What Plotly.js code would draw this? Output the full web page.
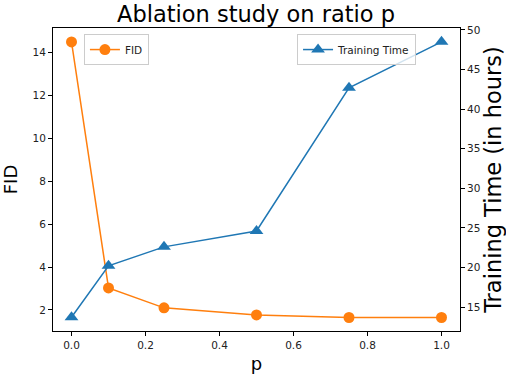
<!DOCTYPE html>
<html><head><meta charset="utf-8">
<script src="https://cdn.plot.ly/plotly-3.0.1.min.js"></script>
<style>html,body{margin:0;padding:0;background:#fff}</style>
</head><body>
<div id="chart" style="width:506px;height:374px"></div>
<script>
const pValues = [0.0, 0.1, 0.25, 0.5, 0.75, 1.0];
const fidValues = [14.5, 3.03, 2.1, 1.77, 1.65, 1.65];
const trainingHours = [13.7, 20.2, 22.6, 24.6, 42.7, 48.5];
const fidTicks = [2, 4, 6, 8, 10, 12, 14];
const hourTicks = [15, 20, 25, 30, 35, 40, 45, 50];
const xTicks = [0.0, 0.2, 0.4, 0.6, 0.8, 1.0];

const font = 'DejaVu Sans, sans-serif';
const traces = [
  {x: pValues, y: fidValues, name: 'FID', type: 'scatter', mode: 'lines+markers',
   line: {color: '#ff7f0e', width: 1.5}, marker: {symbol: 'circle', size: 11, color: '#ff7f0e'},
   yaxis: 'y', legend: 'legend'},
  {x: pValues, y: trainingHours, name: 'Training Time', type: 'scatter', mode: 'lines+markers',
   line: {color: '#1f77b4', width: 1.5}, marker: {symbol: 'triangle-up', size: 12, color: '#1f77b4'},
   yaxis: 'y2', legend: 'legend2'}
];
const axisCommon = {showgrid: false, zeroline: false, ticks: 'outside', ticklen: 4, tickwidth: 1,
  tickcolor: '#000', linecolor: '#000', linewidth: 1, showline: true,
  tickfont: {family: font, size: 10.5, color: '#222'}};
const layout = {
  width: 506, height: 374,
  margin: {l: 53, r: 46, t: 28, b: 43},
  paper_bgcolor: '#fff', plot_bgcolor: '#fff',
  font: {family: font, color: '#000'},
  title: {text: 'Ablation study on ratio p', font: {family: font, size: 22.5, color: '#000'},
          x: 0.506, xanchor: 'center', y: 0.963, yanchor: 'middle', yref: 'container'},
  xaxis: Object.assign({}, axisCommon, {range: [-0.05, 1.05], tickvals: xTicks,
    ticktext: xTicks.map(v => v.toFixed(1)), mirror: true,
    title: {text: 'p', font: {family: font, size: 18}, standoff: 8}}),
  yaxis: Object.assign({}, axisCommon, {range: [1.02, 15.15], tickvals: fidTicks,
    title: {text: 'FID', font: {family: font, size: 18}, standoff: 10}}),
  yaxis2: Object.assign({}, axisCommon, {range: [11.97, 50.25], tickvals: hourTicks,
    overlaying: 'y', side: 'right', anchor: 'x',
    title: {text: 'Training Time (in hours)', font: {family: font, size: 22.5}, standoff: 8}}),
  legend: {x: 0.076, y: 0.98, xanchor: 'left', yanchor: 'top', bordercolor: '#ccc', borderwidth: 1,
    bgcolor: 'rgba(255,255,255,0.8)', font: {family: font, size: 10.5, color: '#222'}},
  legend2: {x: 0.892, y: 0.98, xanchor: 'right', yanchor: 'top', bordercolor: '#ccc', borderwidth: 1,
    bgcolor: 'rgba(255,255,255,0.8)', font: {family: font, size: 10.5, color: '#222'}},
  showlegend: true
};
Plotly.newPlot('chart', traces, layout, {displayModeBar: false, staticPlot: true});
</script>
</body></html>
